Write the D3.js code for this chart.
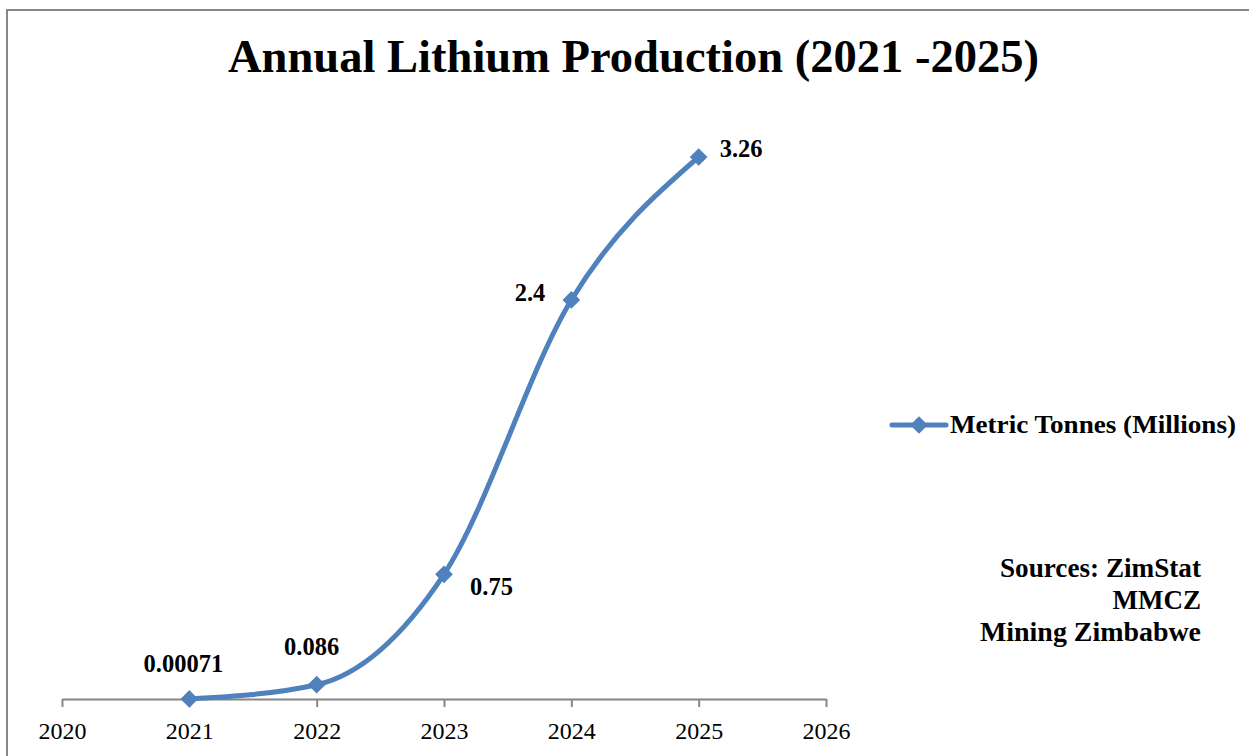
<!DOCTYPE html>
<html>
<head>
<meta charset="utf-8">
<script src="https://cdn.jsdelivr.net/npm/d3@7"></script>
<style>
  body { margin: 0; background: #fff; }
  text { font-family: "Liberation Serif", "DejaVu Serif", serif; }
</style>
</head>
<body>
<div id="chart"></div>
<script>
// data
var years = [2021, 2022, 2023, 2024, 2025];
var tonnes = [0.00071, 0.086, 0.75, 2.4, 3.26];
var labels = ["0.00071", "0.086", "0.75", "2.4", "3.26"];
var xTicks = [2020, 2021, 2022, 2023, 2024, 2025, 2026];
var sources = ["Sources: ZimStat", "MMCZ", "Mining Zimbabwe"];

var width = 1249, height = 756;
var blue = "#4F81BD";

var svg = d3.select("#chart")
  .append("svg")
  .attr("width", width)
  .attr("height", height);

// outer frame (runs off the right and bottom edges)
svg.append("rect")
  .attr("x", 7).attr("y", 10)
  .attr("width", 1300).attr("height", 800)
  .attr("fill", "#fff")
  .attr("stroke", "#868686")
  .attr("stroke-width", 2);

var x = d3.scaleLinear().domain([2020, 2026]).range([62, 826]);
var y = d3.scaleLinear().domain([0, 3.5]).range([699, 699 - 3.5 * 166.26]);

svg.append("text")
  .attr("x", 228).attr("y", 72)
  .attr("font-size", 47)
  .attr("font-weight", "bold")
  .attr("textLength", 811)
  .attr("lengthAdjust", "spacingAndGlyphs")
  .text("Annual Lithium Production (2021 -2025)");

// x axis
var xAxis = svg.append("g")
  .attr("transform", "translate(0," + y(0) + ")")
  .call(d3.axisBottom(x).tickValues(xTicks).tickFormat(d3.format("d")).tickSize(8).tickSizeOuter(0));
xAxis.select(".domain").attr("stroke", "#868686").attr("stroke-width", 2);
xAxis.selectAll(".tick line").attr("stroke", "#868686").attr("stroke-width", 2);
xAxis.selectAll(".tick text")
  .attr("font-family", "Liberation Serif, serif")
  .attr("font-size", 24)
  .attr("fill", "#000")
  .attr("y", 40)
  .attr("dy", 0);

var data = years.map(function(d, i) { return {year: d, v: tonnes[i], label: labels[i]}; });

var line = d3.line()
  .x(function(d) { return x(d.year); })
  .y(function(d) { return y(d.v); })
  .curve(d3.curveMonotoneX);

svg.append("path")
  .datum(data)
  .attr("d", line)
  .attr("fill", "none")
  .attr("stroke", blue)
  .attr("stroke-width", 5)
  .attr("stroke-linecap", "round");

var diamond = d3.symbol().type(d3.symbolDiamond2).size(200);
svg.selectAll(".pt")
  .data(data)
  .enter().append("path")
  .attr("class", "pt")
  .attr("d", diamond)
  .attr("transform", function(d) { return "translate(" + x(d.year) + "," + y(d.v) + ")"; })
  .attr("fill", blue);

// data labels, placed like the original (dx, baseline offset, anchor)
var offs = [[-6, -27, "middle"], [-5, -30, "middle"], [26, 21, "start"], [-26, 1, "end"], [21, 0, "start"]];
svg.selectAll(".lbl")
  .data(data)
  .enter().append("text")
  .attr("class", "lbl")
  .attr("x", function(d, i) { return x(d.year) + offs[i][0]; })
  .attr("y", function(d, i) { return y(d.v) + offs[i][1]; })
  .attr("text-anchor", function(d, i) { return offs[i][2]; })
  .attr("font-size", 24.5)
  .attr("font-weight", "bold")
  .text(function(d) { return d.label; });

// legend
var lg = svg.append("g").attr("transform", "translate(892,425)");
lg.append("line").attr("x1", 0).attr("x2", 54).attr("y1", 0).attr("y2", 0)
  .attr("stroke", blue).attr("stroke-width", 5).attr("stroke-linecap", "round");
lg.append("path").attr("d", diamond).attr("transform", "translate(27,0)").attr("fill", blue);
lg.append("text").attr("x", 58).attr("y", 8)
  .attr("font-size", 26).attr("font-weight", "bold")
  .attr("textLength", 286).attr("lengthAdjust", "spacingAndGlyphs")
  .text("Metric Tonnes (Millions)");

// sources note
var srcW = [201, null, 221];
svg.selectAll(".src")
  .data(sources)
  .enter().append("text")
  .attr("class", "src")
  .attr("x", 1201)
  .attr("y", function(d, i) { return 577 + i * 32; })
  .attr("text-anchor", "end")
  .attr("font-size", 27)
  .attr("font-weight", "bold")
  .attr("textLength", function(d, i) { return srcW[i]; })
  .attr("lengthAdjust", "spacingAndGlyphs")
  .text(function(d) { return d; });
</script>
</body>
</html>
